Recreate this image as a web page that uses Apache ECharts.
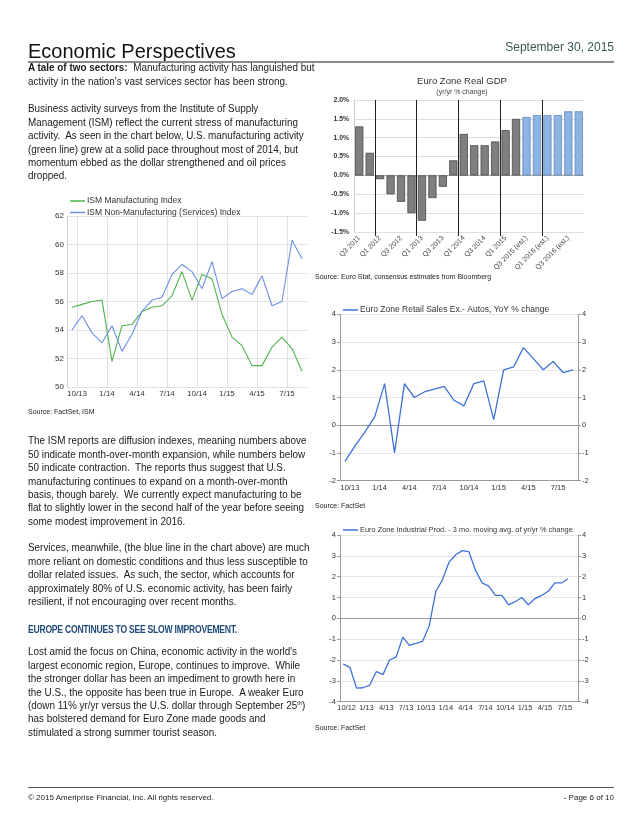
<!DOCTYPE html>
<html>
<head>
<meta charset="utf-8">
<script src="https://cdn.jsdelivr.net/npm/echarts@6/dist/echarts.min.js"></script>
<style>
  html, body { margin:0; padding:0; background:#fff; }
  #page { position:relative; width:640px; height:828px; overflow:hidden; font-family:"Liberation Sans", Arial, sans-serif; color:#1a1a1a; }
  #chart { position:absolute; left:0; top:0; width:640px; height:828px; }
  .abs { position:absolute; white-space:nowrap; }
  .p { position:absolute; left:28px; font-size:10.4px; line-height:13.4px; white-space:nowrap; transform-origin:0 0; color:#1a1a1a; }
  .src { position:absolute; font-size:7px; white-space:nowrap; color:#222; }
</style>
</head>
<body>
<div id="page">
  <div id="chart"></div>
  <div class="abs" style="left:28px; top:40px; font-size:20px; line-height:22px; color:#111;">Economic Perspectives</div>
  <div class="abs" style="right:26px; top:40px; font-size:12px; line-height:14px; color:#3a5656;">September 30, 2015</div>
  <div class="abs" style="left:28px; top:61px; width:586px; height:0; border-top:2px solid #8a8a8a;"></div>

  <div class="p body" style="top:61.3px;"><b>A tale of two sectors:</b>&nbsp; Manufacturing activity has languished but<br>activity in the nation's vast services sector has been strong.</div>
  <div class="p body" style="top:102.3px;">Business activity surveys from the Institute of Supply<br>Management (ISM) reflect the current stress of manufacturing<br>activity.&nbsp; As seen in the chart below, U.S. manufacturing activity<br>(green line) grew at a solid pace throughout most of 2014, but<br>momentum ebbed as the dollar strengthened and oil prices<br>dropped.</div>
  <div class="src" style="left:28px; top:408px;">Source: FactSet, ISM</div>
  <div class="p body" style="top:434.3px;">The ISM reports are diffusion indexes, meaning numbers above<br>50 indicate month-over-month expansion, while numbers below<br>50 indicate contraction.&nbsp; The reports thus suggest that U.S.<br>manufacturing continues to expand on a month-over-month<br>basis, though barely.&nbsp; We currently expect manufacturing to be<br><span id="refline">flat to slightly lower in the second half of the year before seeing</span><br>some modest improvement in 2016.</div>
  <div class="p body" style="top:541.3px;">Services, meanwhile, (the blue line in the chart above) are much<br>more reliant on domestic conditions and thus less susceptible to<br>dollar related issues.&nbsp; As such, the sector, which accounts for<br>approximately 80% of U.S. economic activity, has been fairly<br>resilient, if not encouraging over recent months.</div>
  <div class="p" id="head2" style="top:622.5px; font-size:10px; font-weight:bold; color:#1f4a7a; letter-spacing:-0.3px;">EUROPE CONTINUES TO SEE SLOW IMPROVEMENT.</div>
  <div class="p body" style="top:645.3px;">Lost amid the focus on China, economic activity in the world's<br>largest economic region, Europe, continues to improve.&nbsp; While<br>the stronger dollar has been an impediment to growth here in<br>the U.S., the opposite has been true in Europe.&nbsp; A weaker Euro<br>(down 11% yr/yr versus the U.S. dollar through September 25<sup style="font-size:6px; line-height:0;">th</sup>)<br>has bolstered demand for Euro Zone made goods and<br>stimulated a strong summer tourist season.</div>

  <div class="abs" style="left:462px; top:75px; transform:translateX(-50%); font-size:9.5px; color:#333;">Euro Zone Real GDP</div>
  <div class="abs" style="left:462px; top:88px; transform:translateX(-50%); font-size:7px; color:#444;">(yr/yr % change)</div>
  <div class="src" style="left:315px; top:273px;">Source: Euro Stat, consensus estimates from Bloomberg</div>
  <div class="src" style="left:315px; top:502px;">Source: FactSet</div>
  <div class="src" style="left:315px; top:724px;">Source: FactSet</div>

  <div class="abs" style="left:28px; top:787px; width:586px; height:0; border-top:1.5px solid #555;"></div>
  <div class="abs" style="left:28px; top:793px; font-size:8px; color:#222;">© 2015 Ameriprise Financial, Inc. All rights reserved.</div>
  <div class="abs" style="right:26px; top:793px; font-size:8px; color:#222;">- Page 6 of 10</div>
</div>
<script>
// ---------- DATA ----------
var ismMonths = ['9/13','10/13','11/13','12/13','1/14','2/14','3/14','4/14','5/14','6/14','7/14','8/14','9/14','10/14','11/14','12/14','1/15','2/15','3/15','4/15','5/15','6/15','7/15','8/15'];
var ismManufacturing = [55.6,55.8,56.0,56.1,51.8,54.3,54.4,55.3,55.6,55.7,56.4,58.1,56.1,57.9,57.6,55.1,53.5,52.9,51.5,51.5,52.8,53.5,52.7,51.1];
var ismServices = [54.0,55.0,53.8,53.1,54.3,52.5,53.7,55.3,56.1,56.3,57.9,58.6,58.1,56.9,58.8,56.2,56.7,56.9,56.5,57.8,55.7,56.0,60.3,59.0];
var ismTickLabels = ['10/13','1/14','4/14','7/14','10/14','1/15','4/15','7/15'];

var gdpQuarters = ['Q3 2011','Q4 2011','Q1 2012','Q2 2012','Q3 2012','Q4 2012','Q1 2013','Q2 2013','Q3 2013','Q4 2013','Q1 2014','Q2 2014','Q3 2014','Q4 2014','Q1 2015','Q2 2015','Q3 2015 (est.)','Q4 2015 (est.)','Q1 2016 (est.)','Q2 2016 (est.)','Q3 2016 (est.)','Q4 2016 (est.)'];
var gdpValues = [1.3,0.6,-0.1,-0.5,-0.7,-1.0,-1.2,-0.6,-0.3,0.4,1.1,0.8,0.8,0.9,1.2,1.5,1.55,1.6,1.6,1.6,1.7,1.7];

var retailMonths = ['9/13','10/13','11/13','12/13','1/14','2/14','3/14','4/14','5/14','6/14','7/14','8/14','9/14','10/14','11/14','12/14','1/15','2/15','3/15','4/15','5/15','6/15','7/15','8/15'];
var retailValues = [-1.3,-0.75,-0.25,0.3,1.5,-1.0,1.5,1.0,1.2,1.3,1.4,0.9,0.7,1.5,1.6,0.2,2.0,2.1,2.8,2.4,2.0,2.3,1.9,2.0];
var retailTickLabels = ['10/13','1/14','4/14','7/14','10/14','1/15','4/15','7/15'];

var ipMonths = ['9/12','10/12','11/12','12/12','1/13','2/13','3/13','4/13','5/13','6/13','7/13','8/13','9/13','10/13','11/13','12/13','1/14','2/14','3/14','4/14','5/14','6/14','7/14','8/14','9/14','10/14','11/14','12/14','1/15','2/15','3/15','4/15','5/15','6/15','7/15'];
var ipValues = [-2.2,-2.35,-3.35,-3.33,-3.2,-2.55,-2.7,-2.0,-1.85,-0.9,-1.3,-1.2,-1.1,-0.35,1.3,1.85,2.7,3.05,3.25,3.2,2.3,1.7,1.55,1.1,1.1,0.65,0.8,1.0,0.65,0.95,1.1,1.3,1.7,1.7,1.9];
var ipTickLabels = ['10/12','1/13','4/13','7/13','10/13','1/14','4/14','7/14','10/14','1/15','4/15','7/15'];

// ---------- TEXT FIT ----------
(function(){
  var ref = document.getElementById('refline');
  var w = ref.getBoundingClientRect().width;
  var s = 276 / w;
  document.querySelectorAll('.body').forEach(function(el){ el.style.transform = 'scaleX(' + s + ')'; });
  var h = document.getElementById('head2');
  var hw = h.getBoundingClientRect().width;
  h.style.transform = 'scaleX(' + (209 / hw) + ')';
})();

// ---------- HELPERS ----------
function monthPoints(months, values){ return values.map(function(v,i){ return [i + 0.5, v]; }); }
function tickPos(months, labels){ return labels.map(function(l){ return months.indexOf(l); }); }
function tickFmt(months, labels){ return function(v){ var i = labels.indexOf(months[Math.round(v)]); return i >= 0 ? labels[i] : ''; }; }

var ismTicks = tickPos(ismMonths, ismTickLabels);
var retailTicks = tickPos(retailMonths, retailTickLabels);
var ipTicks = tickPos(ipMonths, ipTickLabels);
// year boundaries (start of each Q1) on the GDP chart, in category-band units
var gdpYearStarts = [];
gdpQuarters.forEach(function(q, i){ if (q.indexOf('Q1') === 0) gdpYearStarts.push(i); });

var FONT = '"Liberation Sans", Arial, sans-serif';
var GRAY = '#7f7f7f', GRAYB = '#3c3c3c', BLUE = '#8db4e2', BLUEB = '#5a80b8';
var LEG = {padding:0, itemWidth:15, itemHeight:1.5, icon:'rect'};

var chart = echarts.init(document.getElementById('chart'), null, {renderer:'canvas'});
var option = {
  animation:false,
  textStyle:{fontFamily:FONT},
  grid:[
    {left:67, top:216, width:240, height:171},
    {left:354, top:100, width:230, height:132},
    {left:340, top:314.3, width:238, height:166.4},
    {left:340, top:535, width:238, height:166.7}
  ],
  legend:[
    Object.assign({data:['ISM Manufacturing Index','ISM Non-Manufacturing (Services) Index'], orient:'vertical', left:70, top:196.5, itemGap:2.5, textStyle:{fontSize:8.5, color:'#333', fontFamily:FONT, padding:[0,0,0,-3]}}, LEG),
    Object.assign({data:['Euro Zone Retail Sales Ex.- Autos, YoY % change'], left:343, top:305.5, textStyle:{fontSize:8.5, color:'#333', fontFamily:FONT, padding:[0,0,0,-3]}}, LEG),
    Object.assign({data:['Euro Zone Industrial Prod. - 3 mo. moving avg. of yr/yr % change'], left:343, top:526.5, textStyle:{fontSize:7.4, color:'#333', fontFamily:FONT, padding:[0,0,0,-3]}}, LEG)
  ],
  xAxis:[
    {gridIndex:0, type:'value', min:0, max:24,
      axisLine:{show:false}, axisTick:{show:false, customValues:ismTicks},
      axisLabel:{customValues:ismTicks, formatter:tickFmt(ismMonths, ismTickLabels), fontSize:8, color:'#333', margin:3},
      splitLine:{show:true, lineStyle:{color:'#e2e2e2'}}},
    {gridIndex:1, type:'category', data:gdpQuarters, boundaryGap:true,
      axisLine:{show:false, onZero:false}, axisTick:{show:false},
      axisLabel:{interval:1, rotate:45, fontSize:7, color:'#444', margin:5},
      splitLine:{show:false}},
    {gridIndex:2, type:'value', min:0, max:24,
      axisLine:{show:true, onZero:false, lineStyle:{color:'#9a9a9a'}}, axisTick:{show:false, customValues:retailTicks},
      axisLabel:{customValues:retailTicks, formatter:tickFmt(retailMonths, retailTickLabels), fontSize:7.5, color:'#333', margin:3},
      splitLine:{show:false}},
    {gridIndex:3, type:'value', min:0, max:36,
      axisLine:{show:true, onZero:false, lineStyle:{color:'#9a9a9a'}}, axisTick:{show:false, customValues:ipTicks},
      axisLabel:{customValues:ipTicks, formatter:tickFmt(ipMonths, ipTickLabels), fontSize:7.5, color:'#333', margin:2},
      splitLine:{show:false}},
    {gridIndex:1, type:'value', min:0, max:gdpQuarters.length, position:'bottom',
      axisLine:{show:false, onZero:false},
      axisTick:{show:true, customValues:gdpYearStarts, length:4, lineStyle:{color:'#222'}},
      axisLabel:{show:false, customValues:gdpYearStarts},
      splitLine:{show:true, lineStyle:{color:'#222', width:1}}}
  ],
  yAxis:[
    {gridIndex:0, type:'value', min:50, max:62, interval:2,
      axisLine:{show:true, lineStyle:{color:'#cfcfcf'}}, axisTick:{show:false},
      axisLabel:{fontSize:8, color:'#333', margin:3},
      splitLine:{lineStyle:{color:'#e2e2e2'}}},
    {gridIndex:1, type:'value', min:-1.5, max:2, interval:0.5,
      axisLine:{show:true, lineStyle:{color:'#cfcfcf'}}, axisTick:{show:false},
      axisLabel:{fontSize:6.8, color:'#333', fontWeight:'bold', margin:5, formatter:function(v){ return v.toFixed(1) + '%'; }},
      splitLine:{lineStyle:{color:['#dedede','#dedede','#dedede','#a8a8a8','#dedede','#dedede','#dedede','#dedede']}}},
    {gridIndex:2, type:'value', min:-2, max:4, interval:1, position:'left',
      axisLine:{show:true, lineStyle:{color:'#9a9a9a'}}, axisTick:{show:true, length:3, lineStyle:{color:'#9a9a9a'}},
      axisLabel:{fontSize:7.5, color:'#333', margin:4},
      splitLine:{lineStyle:{color:['#e6e6e6','#e6e6e6','#9a9a9a','#e6e6e6','#e6e6e6','#e6e6e6','#e6e6e6']}}},
    {gridIndex:2, type:'value', min:-2, max:4, interval:1, position:'right',
      axisLine:{show:true, lineStyle:{color:'#9a9a9a'}}, axisTick:{show:true, length:3, lineStyle:{color:'#9a9a9a'}},
      axisLabel:{fontSize:7.5, color:'#333', margin:4}, splitLine:{show:false}},
    {gridIndex:3, type:'value', min:-4, max:4, interval:1, position:'left',
      axisLine:{show:true, lineStyle:{color:'#9a9a9a'}}, axisTick:{show:true, length:3, lineStyle:{color:'#9a9a9a'}},
      axisLabel:{fontSize:7.5, color:'#333', margin:4},
      splitLine:{lineStyle:{color:['#e6e6e6','#e6e6e6','#e6e6e6','#e6e6e6','#9a9a9a','#e6e6e6','#e6e6e6','#e6e6e6','#e6e6e6']}}},
    {gridIndex:3, type:'value', min:-4, max:4, interval:1, position:'right',
      axisLine:{show:true, lineStyle:{color:'#9a9a9a'}}, axisTick:{show:true, length:3, lineStyle:{color:'#9a9a9a'}},
      axisLabel:{fontSize:7.5, color:'#333', margin:4}, splitLine:{show:false}}
  ],
  series:[
    {name:'ISM Manufacturing Index', type:'line', xAxisIndex:0, yAxisIndex:0, symbol:'none',
      data:monthPoints(ismMonths, ismManufacturing), lineStyle:{color:'#4cb44c', width:1.1}, itemStyle:{color:'#4cb44c'}},
    {name:'ISM Non-Manufacturing (Services) Index', type:'line', xAxisIndex:0, yAxisIndex:0, symbol:'none',
      data:monthPoints(ismMonths, ismServices), lineStyle:{color:'#6b8fe6', width:1.1}, itemStyle:{color:'#6b8fe6'}},
    {name:'Euro Zone Real GDP', type:'bar', xAxisIndex:1, yAxisIndex:1, barCategoryGap:'22%',
      data:gdpValues.map(function(v,i){
        var est = gdpQuarters[i].indexOf('est') >= 0;
        return {value:v, itemStyle:{color: est ? BLUE : GRAY, borderColor: est ? BLUEB : GRAYB, borderWidth:0.7}};
      })},
    {name:'Euro Zone Retail Sales Ex.- Autos, YoY % change', type:'line', xAxisIndex:2, yAxisIndex:2, symbol:'none',
      data:monthPoints(retailMonths, retailValues), lineStyle:{color:'#3f72d8', width:1.3}, itemStyle:{color:'#3f72d8'}},
    {name:'Euro Zone Industrial Prod. - 3 mo. moving avg. of yr/yr % change', type:'line', xAxisIndex:3, yAxisIndex:4, symbol:'none',
      data:monthPoints(ipMonths, ipValues), lineStyle:{color:'#3f72d8', width:1.3}, itemStyle:{color:'#3f72d8'}}
  ]
};
chart.setOption(option);
</script>
</body>
</html>
